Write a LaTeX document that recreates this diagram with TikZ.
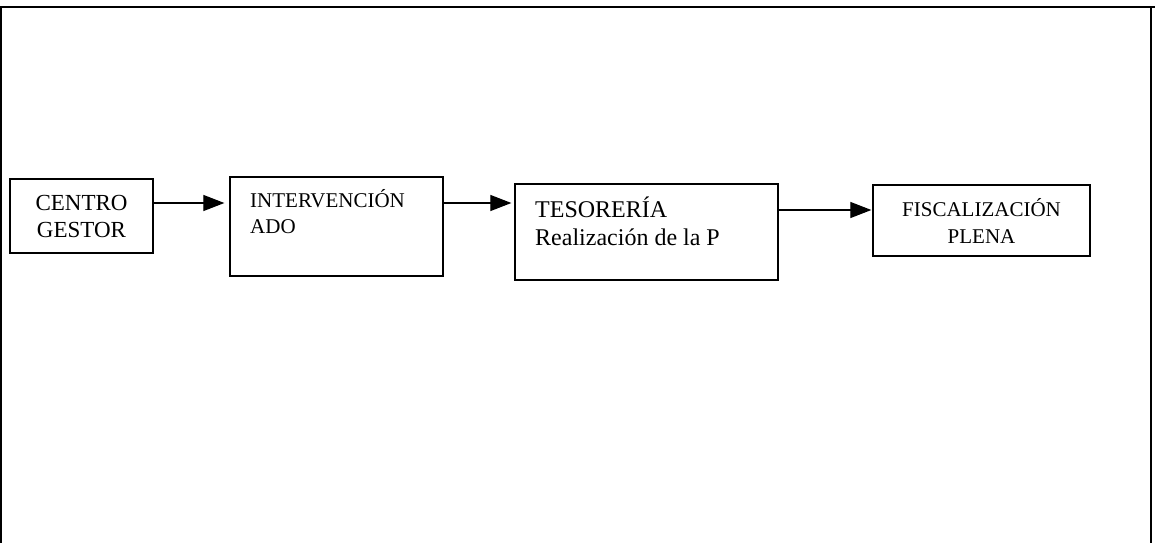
\documentclass[tikz,border=0pt]{standalone}
\usepackage{fontspec}
\setmainfont{Liberation Serif}
\usetikzlibrary{arrows.meta}
\tikzset{
  box/.style={draw,line width=1.3pt,inner sep=0pt,align=center},
  boxtext/.style={inner sep=0pt,align=left,anchor=base west},
  flow/.style={line width=1.2pt,-{Triangle[length=21pt,width=16pt]}},
}
\begin{document}
\begin{tikzpicture}[x=1pt,y=-1pt]
\useasboundingbox (0,0) rectangle (1155,543);
\draw[line width=2pt] (0,7) -- (1155,7);
\draw[line width=2pt] (1,7) -- (1,543);
\draw[line width=2pt] (1151,7) -- (1151,543);
\node[box,minimum width=143pt,minimum height=74pt,font=\fontsize{23}{27}\selectfont] (cg) at (81.5,216) {CENTRO\\GESTOR};
\node[box,minimum width=213pt,minimum height=99pt] (iv) at (336.5,226.5) {};
\node[boxtext,font=\fontsize{21}{26}\selectfont] (ivt) at (250,233) {INTERVENCIÓN\\ADO};
\node[box,minimum width=263pt,minimum height=96pt] (ts) at (646.5,232) {};
\node[boxtext,font=\fontsize{24}{28}\selectfont] (tst) at (535,245) {TESORERÍA\\Realización de la P};
\node[box,minimum width=217pt,minimum height=71pt,font=\fontsize{21}{27}\selectfont] (fp) at (981.5,220.5) {FISCALIZACIÓN\\PLENA};
\draw[flow,shorten >=5pt] (cg.east |- 0,203) -- (iv.west |- 0,203);
\draw[flow,shorten >=3pt] (iv.east |- 0,203) -- (ts.west |- 0,203);
\draw[flow,shorten >=1pt] (ts.east |- 0,210) -- (fp.west |- 0,210);
\end{tikzpicture}
\end{document}
